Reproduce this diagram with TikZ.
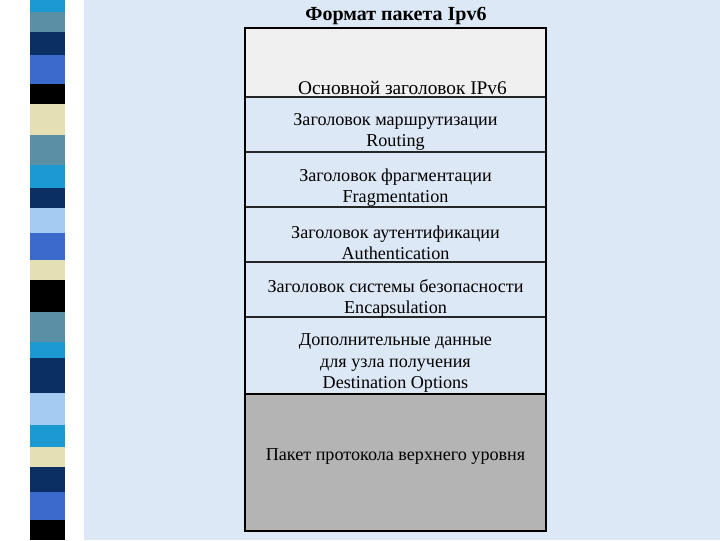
\documentclass[tikz,border=0pt]{standalone}
\usepackage{fontspec}
\setmainfont{Liberation Serif}
\usetikzlibrary{positioning}

\definecolor{bgblue}{HTML}{DDE8F6}
\definecolor{hdrgray}{HTML}{F0F0F0}
\definecolor{upgray}{HTML}{B4B4B4}
\definecolor{stcyan}{HTML}{1A9AD0}
\definecolor{ststeel}{HTML}{5B8FA6}
\definecolor{stnavy}{HTML}{0B2F63}
\definecolor{stroyal}{HTML}{3A6BCC}
\definecolor{stcream}{HTML}{E4E0B4}
\definecolor{stlight}{HTML}{A4CCF2}

\begin{document}
\begin{tikzpicture}[x=0.75pt,y=-0.75pt,
  lyr/.style={font=\fontsize{13.6}{15.8}\selectfont, align=center, inner sep=0pt},
  ttl/.style={font=\fontsize{15}{17}\selectfont\bfseries, inner sep=0pt},
  sep/.style={draw=black!85, line width=1.1pt},
  frame/.style={draw=black, line width=2.2pt}
]
  \useasboundingbox (0,0) rectangle (720,540);
  \fill[white] (0,0) rectangle (720,540);
  \fill[bgblue] (84,0) rectangle (720,540);

  % decorative strip on the left
  \foreach \ya/\yb/\col in {0/12/stcyan, 12/32/ststeel, 32/55/stnavy, 55/84/stroyal,
      84/104/black, 104/135/stcream, 135/165/ststeel, 165/188/stcyan, 188/208/stnavy,
      208/233/stlight, 233/260/stroyal, 260/280/stcream, 280/312/black, 312/342/ststeel,
      342/358/stcyan, 358/393/stnavy, 393/425/stlight, 425/447/stcyan, 447/467/stcream,
      467/492/stnavy, 492/520/stroyal, 520/540/black}
    \fill[\col] (30,\ya) rectangle (65,\yb);

  % packet layers
  \fill[hdrgray] (245,28) rectangle (546,97);
  \fill[upgray] (245,394) rectangle (546,531);
  \foreach \y in {97,152,207,262,317}
    \draw[sep] (245,\y) -- (546,\y);
  \draw[frame] (245,394) -- (546,394);
  \draw[frame] (245,28) rectangle (546,531);

  \node[ttl] (title) at (396,16) {Формат пакета Ipv6};
  \node[lyr, font=\fontsize{14.5}{15.8}\selectfont] (hdr) at (402.5,88) {Основной заголовок IPv6};
  \node[lyr] (rout)  at (395.5,132) {Заголовок маршрутизации\\Routing};
  \node[lyr] (frag)  at (395.5,188) {Заголовок фрагментации\\Fragmentation};
  \node[lyr] (auth)  at (395.5,243) {Заголовок аутентификации\\Authentication};
  \node[lyr] (encap) at (395.5,298) {Заголовок системы безопасности\\Encapsulation};
  \node[lyr] (dest)  at (395.5,363) {Дополнительные данные\\для узла получения\\Destination Options};
  \node[lyr] (upper) at (395.5,457) {Пакет протокола верхнего уровня};
\end{tikzpicture}
\end{document}
